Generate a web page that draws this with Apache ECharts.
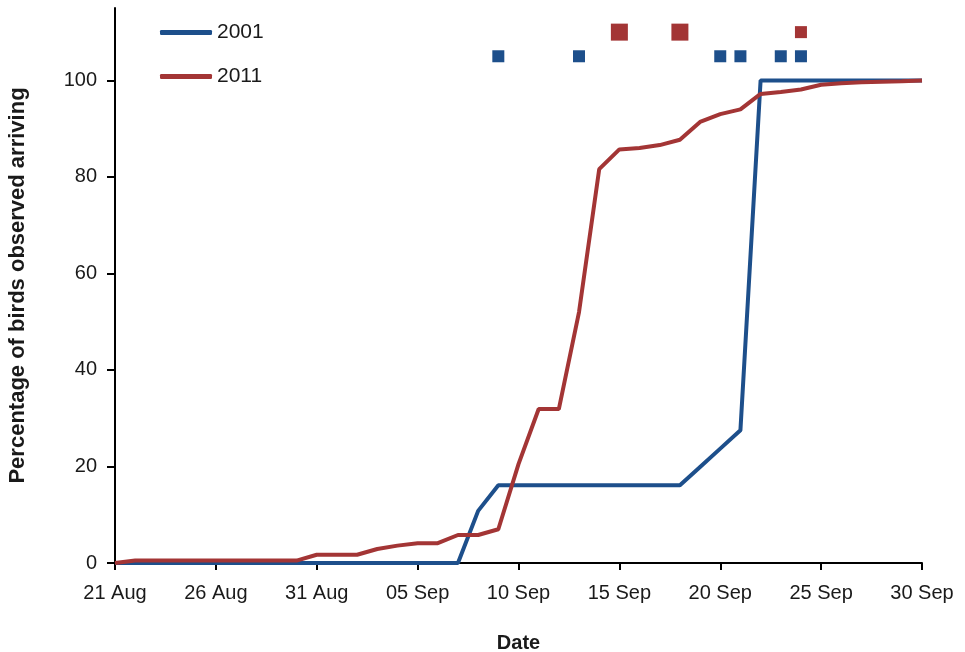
<!DOCTYPE html>
<html>

<head>
    <meta charset="utf-8">
    <title>Percentage of birds observed arriving</title>
    <script src="https://cdn.jsdelivr.net/npm/echarts@6/dist/echarts.min.js"></script>
    <style>
        html, body { margin: 0; padding: 0; background: #fff; }
        #chart { width: 965px; height: 652px; }
    </style>
</head>

<body>
    <div id="chart"></div>
    <script>
    // one category per day, 21 Aug .. 30 Sep
    var dates = [
        '21 Aug', '22 Aug', '23 Aug', '24 Aug', '25 Aug', '26 Aug', '27 Aug', '28 Aug', '29 Aug', '30 Aug', '31 Aug',
        '01 Sep', '02 Sep', '03 Sep', '04 Sep', '05 Sep', '06 Sep', '07 Sep', '08 Sep', '09 Sep', '10 Sep',
        '11 Sep', '12 Sep', '13 Sep', '14 Sep', '15 Sep', '16 Sep', '17 Sep', '18 Sep', '19 Sep', '20 Sep',
        '21 Sep', '22 Sep', '23 Sep', '24 Sep', '25 Sep', '26 Sep', '27 Sep', '28 Sep', '29 Sep', '30 Sep'
    ];

    var arrivals2001 = [
        0, 0, 0, 0, 0, 0, 0, 0, 0, 0, 0,
        0, 0, 0, 0, 0, 0, 0, 10.8, 16.1, 16.1,
        16.1, 16.1, 16.1, 16.1, 16.1, 16.1, 16.1, 16.1, 19.9, 23.7,
        27.5, 100, 100, 100, 100, 100, 100, 100, 100, 100
    ];

    var arrivals2011 = [
        0, 0.5, 0.5, 0.5, 0.5, 0.5, 0.5, 0.5, 0.5, 0.5, 1.7,
        1.7, 1.7, 2.9, 3.6, 4.1, 4.1, 5.8, 5.8, 7.0, 20.5,
        31.9, 31.9, 52.0, 81.6, 85.7, 86.0, 86.6, 87.7, 91.4, 93.0,
        94.0, 97.2, 97.6, 98.1, 99.1, 99.4, 99.6, 99.7, 99.8, 100
    ];

    // event markers along the top
    var marks2001 = ['09 Sep', '13 Sep', '20 Sep', '21 Sep', '23 Sep', '24 Sep'];
    var marks2011Big = ['15 Sep', '18 Sep'];
    var marks2011Small = ['24 Sep'];
    var mark2001Level = 105;
    var mark2011Level = 110;

    var yTicks = [0, 20, 40, 60, 80, 100];

    var blue = '#1d4f8b';
    var red = '#a33535';
    var ink = '#1a1a1a';
    var font = '"Liberation Sans", Arial, sans-serif';

    function markData(list, level) {
        return list.map(function(d) { return [d, level]; });
    }

    var chart = echarts.init(document.getElementById('chart'));
    chart.setOption({
        animation: false,
        backgroundColor: '#fff',
        grid: {
            left: 115,
            right: 43,
            top: 8,
            bottom: 89,
            outerBoundsMode: 'none'
        },
        legend: {
            data: ['2001', '2011'],
            orient: 'vertical',
            left: 155,
            top: 17,
            icon: 'roundRect',
            itemWidth: 52,
            itemHeight: 5,
            itemGap: 23,
            textStyle: { fontFamily: font, fontSize: 21, color: ink }
        },
        xAxis: {
            type: 'category',
            data: dates,
            boundaryGap: false,
            name: 'Date',
            nameLocation: 'middle',
            nameGap: 70,
            nameTextStyle: { fontFamily: font, fontSize: 20, fontWeight: 'bold', color: ink },
            axisLine: { lineStyle: { color: '#000', width: 2 } },
            axisTick: { interval: 4, length: 7, lineStyle: { color: '#000', width: 2 } },
            axisLabel: { interval: 4, margin: 20, fontFamily: font, fontSize: 20, color: ink },
            splitLine: { show: false }
        },
        yAxis: {
            type: 'value',
            min: 0,
            max: 115,
            name: 'Percentage of birds observed arriving',
            nameLocation: 'middle',
            nameGap: 86,
            nameTextStyle: { fontFamily: font, fontSize: 22, fontWeight: 'bold', color: ink },
            axisLine: { show: true, lineStyle: { color: '#000', width: 2 } },
            axisTick: { show: true, length: 8, customValues: yTicks, lineStyle: { color: '#000', width: 2 } },
            axisLabel: { margin: 18, customValues: yTicks, fontFamily: font, fontSize: 20, color: ink },
            splitLine: { show: false }
        },
        series: [
            {
                name: '2001',
                type: 'line',
                data: arrivals2001,
                symbol: 'none',
                color: blue,
                lineStyle: { width: 4, color: blue }
            },
            {
                name: '2011',
                type: 'line',
                data: arrivals2011,
                symbol: 'none',
                color: red,
                lineStyle: { width: 4, color: red }
            },
            {
                name: 'marks2001',
                type: 'scatter',
                data: markData(marks2001, mark2001Level),
                symbol: 'rect',
                symbolSize: 12,
                itemStyle: { color: blue, opacity: 1 }
            },
            {
                name: 'marks2011Big',
                type: 'scatter',
                data: markData(marks2011Big, mark2011Level),
                symbol: 'rect',
                symbolSize: 17,
                itemStyle: { color: red, opacity: 1 }
            },
            {
                name: 'marks2011Small',
                type: 'scatter',
                data: markData(marks2011Small, mark2011Level),
                symbol: 'rect',
                symbolSize: 12,
                itemStyle: { color: red, opacity: 1 }
            }
        ]
    });
    </script>
</body>

</html>
